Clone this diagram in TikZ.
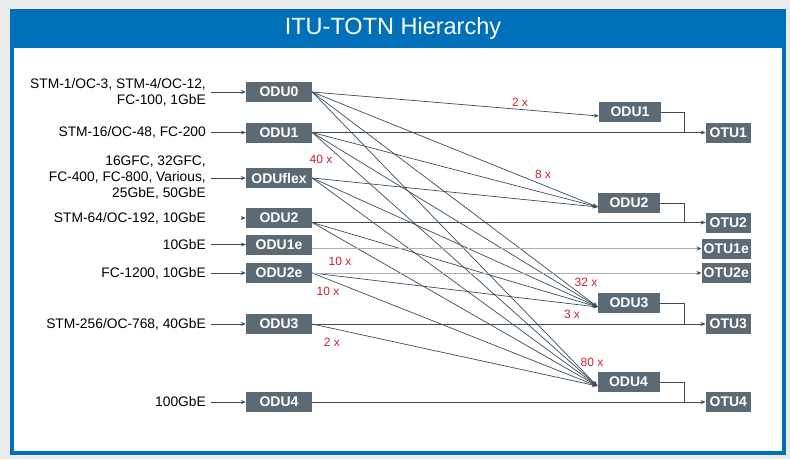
\documentclass[tikz,border=0pt]{standalone}
\usepackage{fontspec}
\setmainfont{Liberation Sans}
\usetikzlibrary{arrows.meta}
\definecolor{otnblue}{RGB}{0,112,186}
\definecolor{otnbox}{RGB}{92,106,117}
\definecolor{otnline}{RGB}{62,76,88}
\definecolor{otngray}{RGB}{170,176,182}
\definecolor{otnred}{RGB}{204,30,50}
\definecolor{otnback}{RGB}{236,236,236}

\tikzset{
  unit/.style={fill=otnbox, text=white, font=\fontsize{14}{16}\selectfont\bfseries,
    minimum height=20pt, inner sep=2pt},
  oduleft/.style={unit, minimum width=66pt},
  oduright/.style={unit, minimum width=62pt},
  otu/.style={unit, minimum width=45pt, anchor=east},
  client/.style={anchor=east, align=right, inner sep=2pt,
    font=\fontsize{13.8}{16}\selectfont},
  mult/.style={text=otnred, inner sep=1pt, font=\fontsize{12}{14}\selectfont},
  feed/.style={draw=otnline, line width=0.8pt, -{Stealth[length=5pt,width=4pt]}},
  mux/.style={draw=otnline, line width=0.7pt, -{Stealth[length=5pt,width=4pt]}},
  light/.style={draw=otngray, line width=1pt, -{Stealth[length=5pt,width=4pt,color=otnline]}},
}

\begin{document}
\begin{tikzpicture}[x=1pt,y=-1pt]

\fill[otnback] (0,0) rectangle (790,459);
\fill[otnblue] (10,9) rectangle (786,455);
\fill[white] (14,48) rectangle (782,451);
\node[text=white, font=\fontsize{23.5}{26}\selectfont] (title) at (393,28) {ITU-TOTN Hierarchy};

% client signals
\node[client] (c0) at (208,92) {STM-1/OC-3, STM-4/OC-12,\\FC-100, 1GbE};
\node[client] (c1) at (208,132.5) {STM-16/OC-48, FC-200};
\node[client] (cflex) at (208,178) {16GFC, 32GFC,\\FC-400, FC-800, Various,\\25GbE, 50GbE};
\node[client] (c2) at (208,218) {STM-64/OC-192, 10GbE};
\node[client] (c1e) at (208,244.5) {10GbE};
\node[client] (c2e) at (208,273) {FC-1200, 10GbE};
\node[client] (c3) at (208,324) {STM-256/OC-768, 40GbE};
\node[client] (c4) at (208,402) {100GbE};

% lower order ODUs
\node[oduleft] (odu0) at (279,92) {ODU0};
\node[oduleft] (odu1) at (279,132.5) {ODU1};
\node[oduleft] (oduflex) at (279,178) {ODUflex};
\node[oduleft] (odu2) at (279,218) {ODU2};
\node[oduleft] (odu1e) at (279,244.5) {ODU1e};
\node[oduleft] (odu2e) at (279,273) {ODU2e};
\node[oduleft] (odu3) at (279,324) {ODU3};
\node[oduleft] (odu4) at (279,402) {ODU4};

% higher order ODUs
\node[oduright] (mux1) at (630,112) {ODU1};
\node[oduright] (mux2) at (629,203) {ODU2};
\node[oduright] (mux3) at (629,303) {ODU3};
\node[oduright] (mux4) at (628.5,382) {ODU4};

% OTUs
\node[otu] (otu1) at (751,132.5) {OTU1};
\node[otu] (otu2) at (751,222.5) {OTU2};
\node[otu] (otu1e) at (751,248.5) {OTU1e};
\node[otu] (otu2e) at (751,273) {OTU2e};
\node[otu] (otu3) at (751,324) {OTU3};
\node[otu] (otu4) at (751,402) {OTU4};

\foreach \c/\o in {c0/odu0,c1/odu1,cflex/oduflex,c1e/odu1e,c2e/odu2e,c3/odu3,c4/odu4}
  \draw[feed, shorten <=3pt] (\c) -- (\o);
\draw[feed, shorten <=33pt] (c2) -- (odu2);

\coordinate (odu2out) at (odu2.east |- otu2.west);
\coordinate (odu1eout) at (odu1e.east |- otu1e.west);

\foreach \s/\d in {odu0.east/mux1,odu0.east/mux2,odu0.east/mux3,odu0.east/mux4,
                   odu1.east/mux2,odu1.east/mux3,odu1.east/mux4,
                   oduflex.east/mux2,oduflex.east/mux3,oduflex.east/mux4,
                   odu2out/mux3,odu2out/mux4,
                   odu2e.east/mux3,odu2e.east/mux4,
                   odu3.east/mux4}
  \draw[mux] (\s) -- ([yshift=-4pt]\d.west);

\draw[feed] (odu1) -- (otu1);
\draw[feed] (odu2out) -- (otu2.west);
\draw[light] (odu1eout) -- (otu1e.west);
\draw[light] (odu2e) -- (otu2e);
\draw[feed] (odu3) -- (otu3);
\draw[feed] (odu4) -- (otu4);

\foreach \m/\o in {mux1/otu1,mux2/otu2,mux3/otu3,mux4/otu4} {
  \coordinate (j-\m) at (684,0 |- \o.west);
  \draw[otnline, line width=0.8pt] (\m.east) -| (j-\m);
}

\node[mult] (m2a) at (520,102) {2 x};
\node[mult] (m8) at (543,174) {8 x};
\node[mult] (m40) at (321,159) {40 x};
\node[mult] (m10a) at (340,261) {10 x};
\node[mult] (m10b) at (328,291) {10 x};
\node[mult] (m32) at (586,282) {32 x};
\node[mult] (m3) at (572,314) {3 x};
\node[mult] (m2b) at (332,342) {2 x};
\node[mult] (m80) at (592,362) {80 x};

\end{tikzpicture}
\end{document}
